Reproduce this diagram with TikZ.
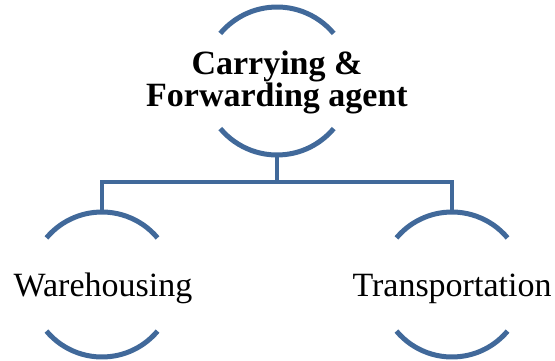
\documentclass[tikz,border=0pt]{standalone}
\usepackage{fontspec}
\setmainfont{Liberation Serif}[BoldFont={Liberation Serif Bold}]
\definecolor{ringblue}{RGB}{65,105,154}
\begin{document}
\begin{tikzpicture}[x=1pt,y=1pt,
  ring/.style={circle,minimum size=#1,inner sep=0pt,outer sep=0pt},
  arcline/.style={draw=ringblue,line width=5pt},
  conn/.style={draw=ringblue,line width=4.5pt,line join=miter},
  lbl/.style={inner sep=0pt,align=center,font=\fontsize{34}{32}\selectfont},
]
\useasboundingbox (0,0) rectangle (555,360);
% rings
\node[ring=148pt] (topring) at (277,279) {};
\node[ring=145pt] (wring) at (102,75.5) {};
\node[ring=145pt] (tring) at (452,75.5) {};
% arcs
\draw[arcline] (topring.40) arc[start angle=40,end angle=140,radius=74pt];
\draw[arcline] (topring.220) arc[start angle=220,end angle=320,radius=74pt];
\draw[arcline] (wring.40) arc[start angle=40,end angle=140,radius=72.5pt];
\draw[arcline] (wring.220) arc[start angle=220,end angle=320,radius=72.5pt];
\draw[arcline] (tring.40) arc[start angle=40,end angle=140,radius=72.5pt];
\draw[arcline] (tring.220) arc[start angle=220,end angle=320,radius=72.5pt];
% labels
\node[lbl,font=\fontsize{34}{32}\selectfont\bfseries] (toptext) at (277,278) {Carrying \&\\Forwarding agent};
\node[lbl,anchor=base] (wtext) at (103,64) {Warehousing};
\node[lbl,anchor=base] (ttext) at (452,64) {Transportation};
% connectors
\draw[conn] (topring.south) -- ++(0,-27) -| (wring.north);
\draw[conn] (topring.south) -- ++(0,-27) -| (tring.north);
\end{tikzpicture}
\end{document}
